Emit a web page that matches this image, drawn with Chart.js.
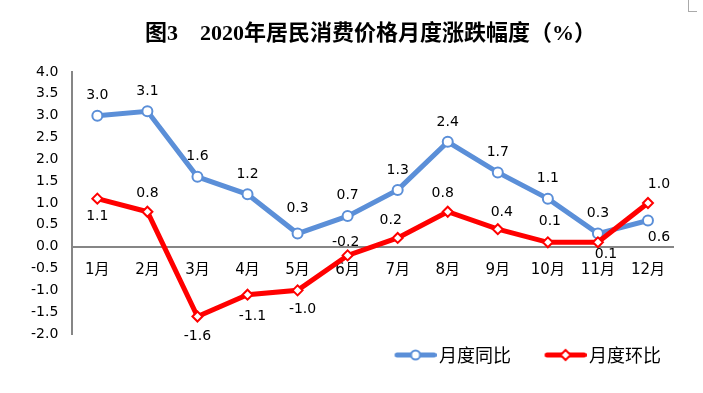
<!DOCTYPE html>
<html>
<head>
<meta charset="utf-8">
<script src="https://cdn.jsdelivr.net/npm/chart.js@4.4.0/dist/chart.umd.min.js"></script>
<style>
html, body { margin: 0; padding: 0; background: #fff; }
#wrap { position: relative; width: 703px; height: 393px; }
#title {
  position: absolute; left: 0; top: 14px; width: 703px; box-sizing: border-box;
  padding-left: 38px; text-align: center; color: #000;
  font: bold 22px "Liberation Serif", "Noto Sans CJK SC", serif;
}
#corner { position: absolute; right: 6px; top: 0; width: 8px; height: 11px;
  border-left: 1px solid #aaa; border-bottom: 1px solid #aaa; }
</style>
</head>
<body>
<div id="wrap">
  <canvas id="c" width="703" height="393"></canvas>
  <div id="title">图3&nbsp;&nbsp;&nbsp;&nbsp;2020年居民消费价格月度涨跌幅度（%）</div>
  <div id="corner"></div>
</div>
<script>
const months = ['1月', '2月', '3月', '4月', '5月', '6月', '7月', '8月', '9月', '10月', '11月', '12月'];
const yoy = [3.0, 3.1, 1.6, 1.2, 0.3, 0.7, 1.3, 2.4, 1.7, 1.1, 0.3, 0.6];
const mom = [1.1, 0.8, -1.6, -1.1, -1.0, -0.2, 0.2, 0.8, 0.4, 0.1, 0.1, 1.0];
const yMin = -2.0, yMax = 4.0, yStep = 0.5;

const BLUE = '#5b8fd8';
const RED = '#ff0000';

// where each value label sits relative to its point
const yoyLabelOffsets = [[0,-20],[0,-20],[0,-20],[0,-20],[0,-25],[0,-21],[0,-20],[0,-20],[0,-20],[0,-20],[0,-20],[11,17]];
const momLabelOffsets = [[0,18],[0,-18],[0,20],[5,22],[5,19],[-2,-13],[-7,-18],[-5,-18],[4,-17],[2,-21],[8,12],[11,-19]];

// legend sample: a short line with the series marker
function legendIcon(color, marker) {
  const c = document.createElement('canvas');
  c.width = 70; c.height = 14;
  const g = c.getContext('2d');
  g.strokeStyle = color; g.lineWidth = 5; g.lineCap = 'round';
  g.beginPath(); g.moveTo(30.5, 7); g.lineTo(67.5, 7); g.stroke();
  g.fillStyle = '#fff'; g.lineWidth = 2;
  g.beginPath();
  if (marker === 'circle') {
    g.arc(49, 7, 4.5, 0, Math.PI * 2);
  } else {
    g.moveTo(49, 2); g.lineTo(54, 7); g.lineTo(49, 12); g.lineTo(44, 7); g.closePath();
  }
  g.fill(); g.stroke();
  return c;
}
const icons = [legendIcon(BLUE, 'circle'), legendIcon(RED, 'diamond')];

const valueLabels = {
  id: 'valueLabels',
  afterDatasetsDraw(chart) {
    const ctx = chart.ctx;
    ctx.save();
    ctx.font = '14px "DejaVu Sans"';
    ctx.fillStyle = '#000';
    ctx.textAlign = 'center';
    ctx.textBaseline = 'middle';
    chart.data.datasets.forEach((ds, i) => {
      chart.getDatasetMeta(i).data.forEach((pt, j) => {
        const off = ds.labelOffsets[j];
        ctx.fillText(ds.data[j].toFixed(1), pt.x + off[0], pt.y + off[1]);
      });
    });
    ctx.restore();
  }
};

new Chart(document.getElementById('c'), {
  type: 'line',
  data: {
    labels: months,
    datasets: [
      {
        label: '月度同比', data: yoy, labelOffsets: yoyLabelOffsets, order: 1,
        borderColor: BLUE, borderWidth: 5, backgroundColor: '#fff',
        pointStyle: 'circle', pointRadius: 5, pointBorderWidth: 2,
        pointBorderColor: BLUE, pointBackgroundColor: '#fff', tension: 0
      },
      {
        label: '月度环比', data: mom, labelOffsets: momLabelOffsets, order: 0,
        borderColor: RED, borderWidth: 5, backgroundColor: '#fff',
        pointStyle: 'rectRot', pointRadius: 5, pointBorderWidth: 2,
        pointBorderColor: RED, pointBackgroundColor: '#fff', tension: 0
      }
    ]
  },
  options: {
    responsive: false,
    devicePixelRatio: 1,
    animation: false,
    layout: { padding: { left: 17, right: 30, top: 72, bottom: 19 } },
    scales: {
      x: {
        type: 'category',
        position: { y: 0 },
        offset: true,
        grid: { display: false, drawTicks: false },
        border: { display: true, color: '#868686', width: 2 },
        ticks: { color: '#000', padding: 14, font: { family: '"DejaVu Sans", "Noto Sans CJK SC"', size: 15 } }
      },
      y: {
        min: yMin, max: yMax,
        grid: { display: false, drawTicks: false },
        border: { display: true, color: '#868686', width: 2 },
        ticks: {
          stepSize: yStep, color: '#000', padding: 14,
          font: { family: '"DejaVu Sans"', size: 14 },
          callback: v => v.toFixed(1)
        }
      }
    },
    plugins: {
      title: { display: false },
      tooltip: { enabled: false },
      legend: {
        position: 'bottom',
        align: 'end',
        labels: {
          usePointStyle: true,
          pointStyleWidth: 57,
          padding: 12,
          color: '#000',
          font: { family: '"Noto Sans CJK SC"', size: 18 },
          generateLabels(chart) {
            const items = Chart.defaults.plugins.legend.labels.generateLabels(chart);
            items.sort((a, b) => a.datasetIndex - b.datasetIndex);
            items.forEach(it => { it.pointStyle = icons[it.datasetIndex]; });
            return items;
          }
        }
      }
    }
  },
  plugins: [valueLabels]
});
</script>
</body>
</html>
